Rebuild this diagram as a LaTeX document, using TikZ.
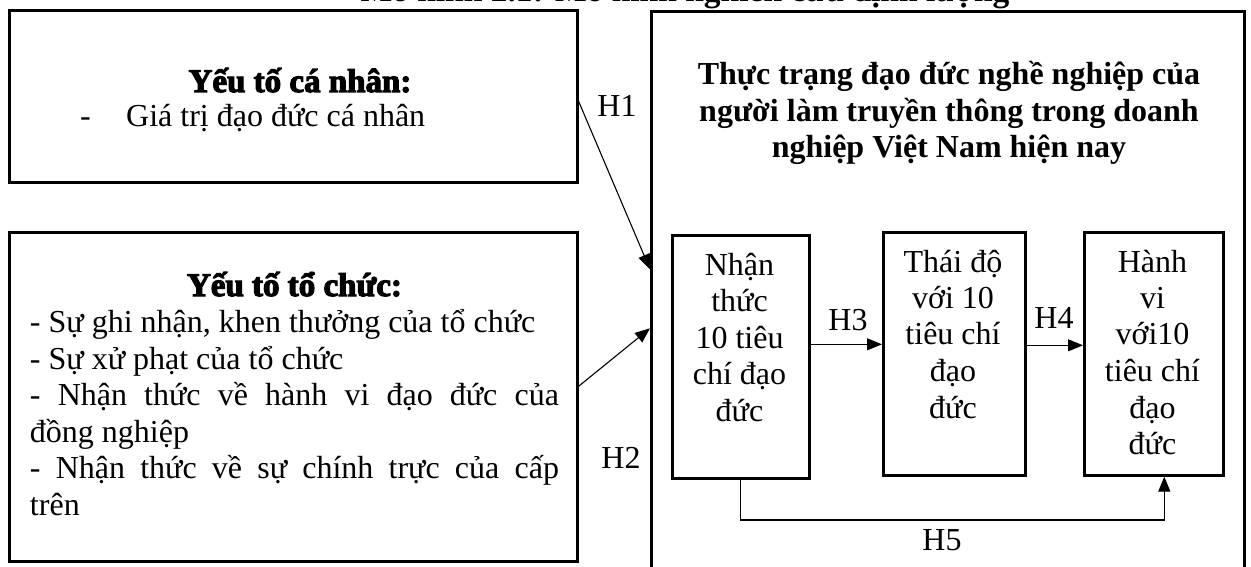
\documentclass[tikz,border=0pt]{standalone}
\usepackage{fontspec}
\setmainfont{Liberation Serif}
\newfontfamily\heavy[FakeBold=3.5]{Liberation Serif}
\usetikzlibrary{arrows.meta}
\begin{document}
\begin{tikzpicture}[x=1pt,y=-1pt,
  box/.style={draw, line width=2.6pt, inner sep=0pt, anchor=north west},
  arr/.style={line width=1.1pt, -{Triangle[length=15pt,width=12pt]}},
  txt/.style={inner sep=0pt, anchor=base, font=\fontsize{32}{36.5}\selectfont},
  hfont/.style={font=\fontsize{33}{36.5}\selectfont\heavy\bfseries}
]
\useasboundingbox (0,0) rectangle (1251,567);

% title (cut off at the top)
\node[inner sep=0pt, anchor=base, font=\fontsize{33.5}{40}\selectfont\bfseries] (title) at (685,2) {Mô hình 2.1: Mô hình nghiên cứu định lượng};

% boxes
\node[box, minimum width=568pt, minimum height=172pt] (b1) at (8,9) {};
\node[box, minimum width=568pt, minimum height=329pt] (b2) at (8,231) {};
\node[box, minimum width=593pt, minimum height=590pt] (big) at (650,10) {};
\node[box, minimum width=137pt, minimum height=243pt] (i1) at (671,234) {};
\node[box, minimum width=142pt, minimum height=243pt] (i2) at (882,231) {};
\node[box, minimum width=139pt, minimum height=243pt] (i3) at (1083,231) {};

% texts
\node[txt, hfont] (t1h) at (300,92) {Yếu tố cá nhân:};
\node[txt, anchor=base west] (t1i) at (80,127) {\makebox[46pt][l]{-}Giá trị đạo đức cá nhân};

\node[txt] (t2) at (294.5,296) {\parbox[t]{529pt}{{\centering\fontsize{33}{36.5}\selectfont\heavy\bfseries Yếu tố tổ chức:\par}
- Sự ghi nhận, khen thưởng của tổ chức\par
- Sự xử phạt của tổ chức\par
- Nhận thức về hành vi đạo đức của\linebreak đồng nghiệp\par
- Nhận thức về sự chính trực của cấp\linebreak trên}};

\node[txt, font=\fontsize{32}{36.5}\selectfont\bfseries] (bt) at (949,85) {\parbox[t]{580pt}{\centering Thực trạng đạo đức nghề nghiệp của\\ người làm truyền thông trong doanh\\ nghiệp Việt Nam hiện nay}};

\node[txt] (n1) at (739.5,275) {\parbox[t]{137pt}{\centering Nhận\\ thức\\ 10 tiêu\\ chí đạo\\ đức}};
\node[txt] (n2) at (953,272) {\parbox[t]{142pt}{\centering Thái độ\\ với 10\\ tiêu chí\\ đạo\\ đức}};
\node[txt] (n3) at (1152.5,272) {\parbox[t]{139pt}{\centering Hành\\ vi\\ với10\\ tiêu chí\\ đạo\\ đức}};

% labels
\node[txt] (h1) at (617,117) {H1};
\node[txt] (h2) at (621,468) {H2};
\node[txt] (h3) at (848,330) {H3};
\node[txt] (h4) at (1054,328) {H4};
\node[txt] (h5) at (942,550) {H5};

% connectors
\draw[arr] ([yshift=-5pt]b1.east) -- ([yshift=37pt]big.west);
\draw[arr] ([yshift=10.5pt]b2.east) -- ([yshift=-22pt]big.west);
\coordinate (h3s) at ([yshift=12.5pt]i1.east);
\draw[arr] (h3s) -- (h3s -| i2.west);
\coordinate (h4s) at ([yshift=8.5pt]i2.east);
\draw[arr] (h4s) -- (h4s -| i3.west);
\coordinate (h5y) at (0,520);
\draw[arr] (i1.south) -- (i1.south |- h5y) -| ([xshift=10.5pt]i3.south);
\end{tikzpicture}
\end{document}
